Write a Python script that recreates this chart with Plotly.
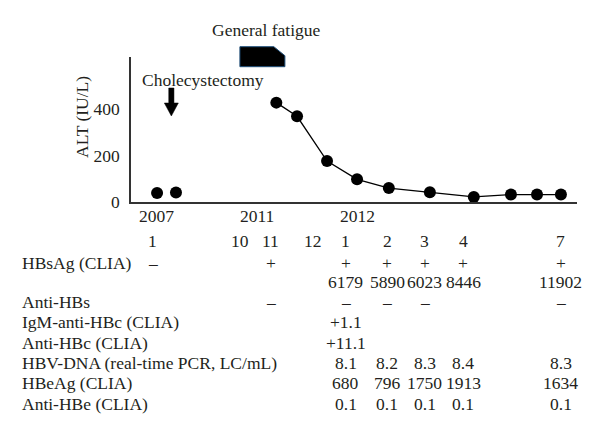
import plotly.graph_objects as go

# ---------------- data ----------------
# x positions are in "months since Jan 2011" (2007 section compressed at left)
pre_x = [6.68, 7.21]
pre_alt = [39, 41]
post_x = [10.02, 10.60, 11.44, 12.28, 13.17, 14.32, 15.55, 16.59, 17.32, 17.99]
post_alt = [429, 370, 177, 98, 60, 42, 22, 32, 32, 32]

year_labels = ["2007", "2011", "2012"]
year_x = [6.66, 9.48, 12.3]

col_labels = ["1", "10", "11", "12", "1", "2", "3", "4", "7"]
col_x = [6.56, 9.0, 9.87, 11.04, 11.97, 13.12, 14.18, 15.25, 17.99]

row_names = ["HBsAg (CLIA)", "", "Anti-HBs", "IgM-anti-HBc (CLIA)", "Anti-HBc (CLIA)",
             "HBV-DNA (real-time PCR, LC/mL)", "HBeAg (CLIA)", "Anti-HBe (CLIA)"]
hbsag = ["–", "", "+", "", "+", "+", "+", "+", "+"]
hbsag_titer = ["", "", "", "", "6179", "5890", "6023", "8446", "11902"]
anti_hbs = ["", "", "–", "", "–", "–", "–", "", "–"]
igm_anti_hbc = ["", "", "", "", "+1.1", "", "", "", ""]
anti_hbc = ["", "", "", "", "+11.1", "", "", "", ""]
hbv_dna = ["", "", "", "", "8.1", "8.2", "8.3", "8.4", "8.3"]
hbeag = ["", "", "", "", "680", "796", "1750", "1913", "1634"]
anti_hbe = ["", "", "", "", "0.1", "0.1", "0.1", "0.1", "0.1"]
table_rows = [hbsag, hbsag_titer, anti_hbs, igm_anti_hbc, anti_hbc, hbv_dna, hbeag, anti_hbe]

y_ticks = [0, 200, 400]

# ---------------- layout geometry ----------------
OFF = 8  # page body margin
W, H = 600 - OFF, 436 - OFF
ML, MR, MT, MB = 131 - OFF, 23, 57 - OFF, 234
XR = [5.95, 18.44]
YR = [0, 626]
PW = W - ML - MR
PH = H - MT - MB
FONT = "Liberation Serif"
FS = 17.5
TXT = "#231f20"


def px_y(py):
    """screen pixel y (reference coords) -> paper y"""
    return (H - MB - (py - OFF)) / PH


def px_x(px):
    return ((px - OFF) - ML) / PW


def mx(m):
    """month value -> paper x"""
    return (m - XR[0]) / (XR[1] - XR[0])


fig = go.Figure()
fig.add_trace(go.Scatter(x=pre_x, y=pre_alt, mode="markers",
                         marker=dict(size=12, color="black"),
                         cliponaxis=False, showlegend=False))
fig.add_trace(go.Scatter(x=post_x, y=post_alt, mode="lines+markers",
                         marker=dict(size=12, color="black"),
                         line=dict(color="black", width=1.3),
                         cliponaxis=False, showlegend=False))

annotations = []
# y axis title
annotations.append(dict(text="ALT (IU/L)", xref="paper", yref="paper",
                        x=px_x(82), y=px_y(117), textangle=-90, showarrow=False,
                        xanchor="center", yanchor="middle", font=dict(size=FS)))
# event labels
annotations.append(dict(text="General fatigue", xref="paper", yref="paper",
                        x=px_x(266), y=px_y(30), showarrow=False,
                        xanchor="center", yanchor="middle", font=dict(size=FS)))
annotations.append(dict(text="Cholecystectomy", xref="paper", yref="paper",
                        x=px_x(202.5), y=px_y(80), showarrow=False,
                        xanchor="center", yanchor="middle", font=dict(size=FS)))
# year labels
for lab, xv in zip(year_labels, year_x):
    annotations.append(dict(text=lab, xref="x", yref="paper", x=xv, y=px_y(215.5),
                            showarrow=False, xanchor="center", yanchor="middle",
                            font=dict(size=FS)))
# column header
row_py = [241, 263, 281.7, 301.7, 321.7, 342.5, 363, 383, 404]
for lab, xv in zip(col_labels, col_x):
    annotations.append(dict(text=lab, xref="x", yref="paper", x=xv, y=px_y(row_py[0]),
                            showarrow=False, xanchor="center", yanchor="middle",
                            font=dict(size=FS)))
# table rows
for i, (name, vals) in enumerate(zip(row_names, table_rows)):
    py = row_py[i + 1]
    if name:
        annotations.append(dict(text=name, xref="paper", yref="paper", x=px_x(20),
                                y=px_y(py), showarrow=False, xanchor="left",
                                yanchor="middle", font=dict(size=FS)))
    for v, xv in zip(vals, col_x):
        if v:
            annotations.append(dict(text=v, xref="x", yref="paper", x=xv, y=px_y(py),
                                    showarrow=False, xanchor="center", yanchor="middle",
                                    font=dict(size=FS)))

# fatigue bar (pentagon) and cholecystectomy arrow
f0, f1, fc = 9.0, 10.26, 9.95
fatigue_path = (f"M {mx(f0)},{px_y(66.7)} L {mx(f0)},{px_y(46.7)} L {mx(fc)},{px_y(46.7)} "
                f"L {mx(f1)},{px_y(55.7)} L {mx(f1)},{px_y(66.7)} Z")
ac = 7.08
aw_s = 2.6 / PW * (XR[1] - XR[0])
aw_h = 7.0 / PW * (XR[1] - XR[0])
arrow_path = (f"M {mx(ac - aw_s)},{px_y(88)} L {mx(ac + aw_s)},{px_y(88)} "
              f"L {mx(ac + aw_s)},{px_y(103)} L {mx(ac + aw_h)},{px_y(103)} "
              f"L {mx(ac)},{px_y(116)} L {mx(ac - aw_h)},{px_y(103)} "
              f"L {mx(ac - aw_s)},{px_y(103)} Z")
shapes = [
    dict(type="path", xref="paper", yref="paper", path=fatigue_path,
         fillcolor="black", line=dict(color="#1f4f7a", width=1)),
    dict(type="path", xref="paper", yref="paper", path=arrow_path,
         fillcolor="black", line=dict(color="black", width=0.5)),
]

fig.update_layout(
    width=W, height=H,
    margin=dict(l=ML, r=MR, t=MT, b=MB, pad=0),
    paper_bgcolor="white", plot_bgcolor="white",
    font=dict(family=FONT, size=FS, color=TXT),
    xaxis=dict(range=XR, showgrid=False, zeroline=False, showticklabels=False,
               showline=True, linecolor="#333333", linewidth=1.5, ticks=""),
    yaxis=dict(range=YR, showgrid=False, zeroline=False, tickvals=y_ticks,
               showline=True, linecolor="#333333", linewidth=1.5, ticks="",
               ticklabelstandoff=6, tickfont=dict(size=FS)),
    annotations=annotations,
    shapes=shapes,
    showlegend=False,
)

fig.write_html("out.html")
